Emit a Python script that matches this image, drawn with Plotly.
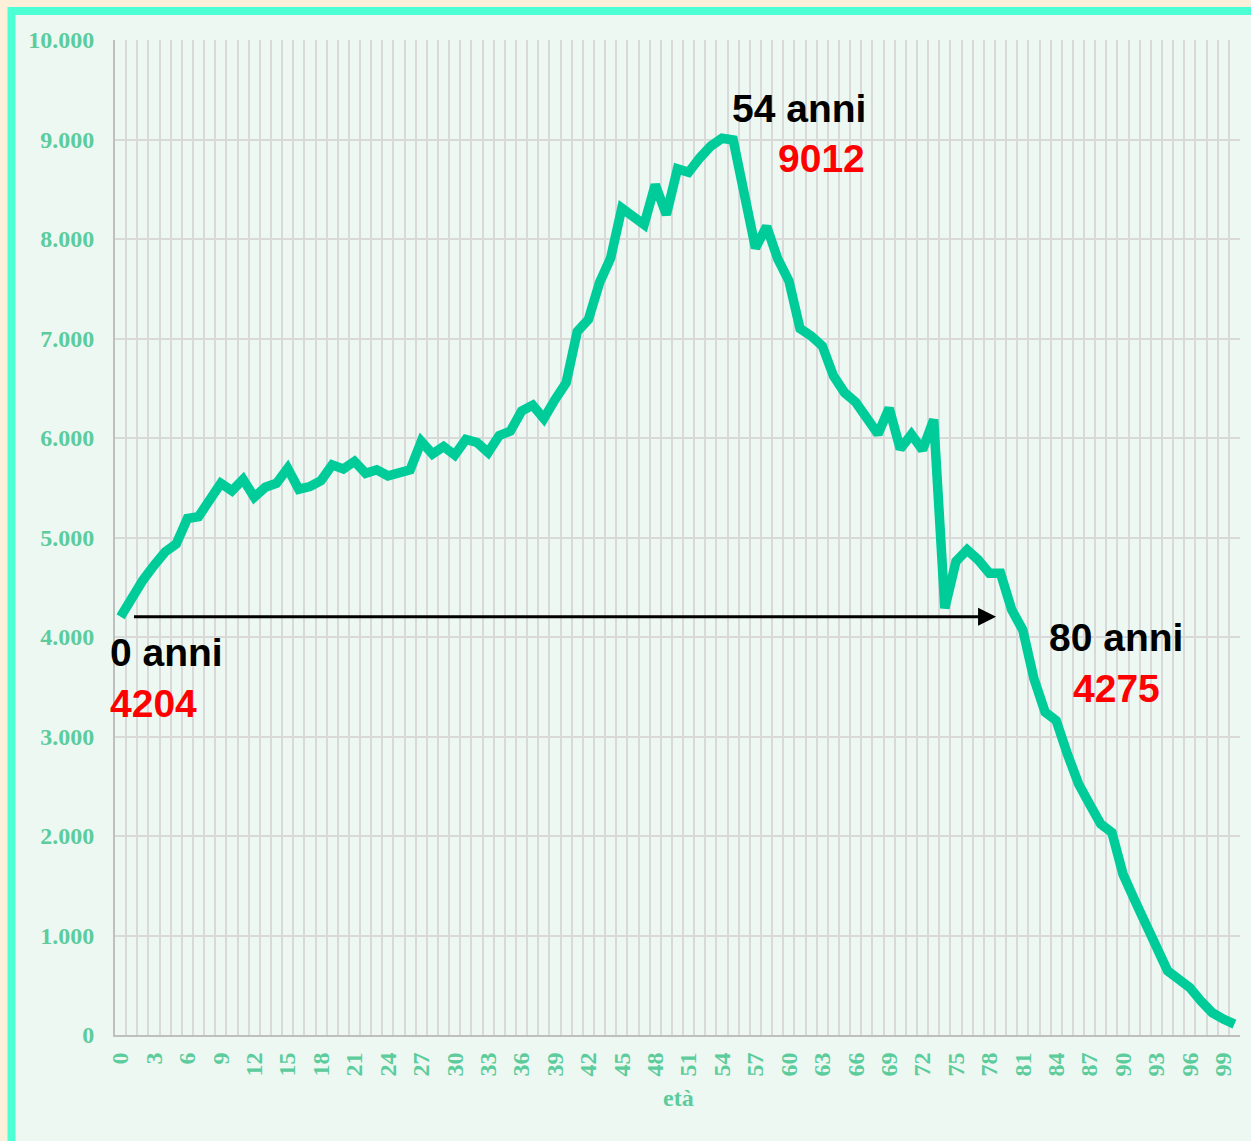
import plotly.graph_objects as go

ages = list(range(0, 101))
values = [
    4204, 4400, 4570, 4720, 4855, 4935, 5190, 5210, 5360, 5545,
    5470, 5585, 5405, 5505, 5545, 5695, 5485, 5512, 5572, 5730,
    5690, 5765, 5645, 5680, 5620, 5640, 5680, 5965, 5840, 5915,
    5830, 5985, 5955, 5855, 6025, 6070, 6270, 6330, 6195, 6385,
    6555, 7070, 7190, 7560, 7810, 8310, 8230, 8145, 8545, 8245,
    8705, 8670, 8815, 8935, 9012, 8995, 8450, 7910, 8125, 7800,
    7580, 7100, 7025, 6925, 6625, 6455, 6360, 6190, 6040, 6300,
    5890, 6035, 5880, 6185, 4290, 4760, 4875, 4775, 4640, 4640,
    4275, 4070, 3580, 3245, 3160, 2825, 2525, 2320, 2120, 2035,
    1615, 1365, 1115, 860, 645, 560, 475, 340, 225, 160,
    110,
]
x_tick_vals = list(range(0, 100, 3))
x_tick_text = [str(v) for v in x_tick_vals]
y_tick_vals = [0, 1000, 2000, 3000, 4000, 5000, 6000, 7000, 8000, 9000, 10000]
y_tick_text = ["0", "1.000", "2.000", "3.000", "4.000", "5.000", "6.000",
               "7.000", "8.000", "9.000", "10.000"]
x_title = "età"
notes = [("0 anni", "4204"), ("54 anni", "9012"), ("80 anni", "4275")]
arrow_from_age, arrow_to_age, arrow_level = 1.07, 78.6, 4204

GREEN_TXT = "#5ccc9c"
LINE = "#00cc99"
GRID = "#d9d9d9"

fig = go.Figure()
fig.add_trace(go.Scatter(
    x=ages, y=values, mode="lines",
    line=dict(color=LINE, width=9.5, shape="linear"),
    hoverinfo="x+y", showlegend=False,
))

W, H = 1251, 1141
L, R, T, B = 115, 11, 40, 106
pw, ph = W - L - R, H - T - B


def px(xp):
    return (xp - L) / pw


def py(yp):
    return (H - B - yp) / ph


fig.update_layout(
    width=W, height=H,
    margin=dict(l=L, r=R, t=T, b=B),
    paper_bgcolor="#fcf0da",
    plot_bgcolor="rgba(0,0,0,0)",
    showlegend=False,
)

fig.add_shape(type="rect", xref="paper", yref="paper",
              x0=px(11.5), x1=px(1275), y0=py(1170), y1=py(11),
              line=dict(color="#4dffd4", width=8),
              fillcolor="#eef8f2", layer="below")

fig.update_xaxes(
    range=[-0.5, 100.5],
    tickmode="array", tickvals=x_tick_vals, ticktext=x_tick_text,
    tickangle=-90,
    tickfont=dict(family="Liberation Serif", size=24, color=GREEN_TXT, weight="bold"),
    ticks="outside", ticklen=6, tickcolor="rgba(0,0,0,0)",
    showgrid=False, zeroline=False,
    showline=True, linecolor="#bfbfbf", linewidth=2,
    minor=dict(tickmode="linear", tick0=0.5, dtick=1, showgrid=True,
               gridcolor=GRID, gridwidth=2, ticks=""),
)
fig.update_yaxes(
    range=[0, 10000],
    tickmode="array", tickvals=y_tick_vals, ticktext=y_tick_text,
    tickfont=dict(family="Liberation Serif", size=24, color=GREEN_TXT, weight="bold"),
    ticks="outside", ticklen=14, tickcolor="rgba(0,0,0,0)",
    showgrid=True, gridcolor=GRID, gridwidth=2, zeroline=False,
    showline=True, linecolor="#bfbfbf", linewidth=2,
)

# arrow
fig.add_annotation(x=arrow_to_age, y=arrow_level, ax=arrow_from_age, ay=arrow_level,
                   xref="x", yref="y", axref="x", ayref="y", text="",
                   showarrow=True, arrowhead=2, arrowsize=1.2, arrowwidth=3,
                   arrowcolor="black")

label_pos = [(108, 652, 703), (730, 108, 158), (1047, 637, 688)]
red_dx = [0, 46, 24]
for (name, num), (xl, y1, y2), dx in zip(notes, label_pos, red_dx):
    fig.add_annotation(x=px(xl), y=py(y1), xref="paper", yref="paper",
                       text=name, showarrow=False, xanchor="left", yanchor="middle",
                       font=dict(family="Liberation Sans", size=39, color="black",
                                 weight="bold"))
    fig.add_annotation(x=px(xl + dx), y=py(y2), xref="paper", yref="paper",
                       text=num, showarrow=False, xanchor="left", yanchor="middle",
                       font=dict(family="Liberation Sans", size=39, color="#ff0000",
                                 weight="bold"))

fig.add_annotation(x=px(678), y=py(1098), xref="paper", yref="paper",
                   text=x_title, showarrow=False, xanchor="center", yanchor="middle",
                   font=dict(family="Liberation Serif", size=24, color=GREEN_TXT,
                             weight="bold"))

fig.write_html("out.html", config={"displayModeBar": False},
               post_script="document.body.style.margin='0';")
